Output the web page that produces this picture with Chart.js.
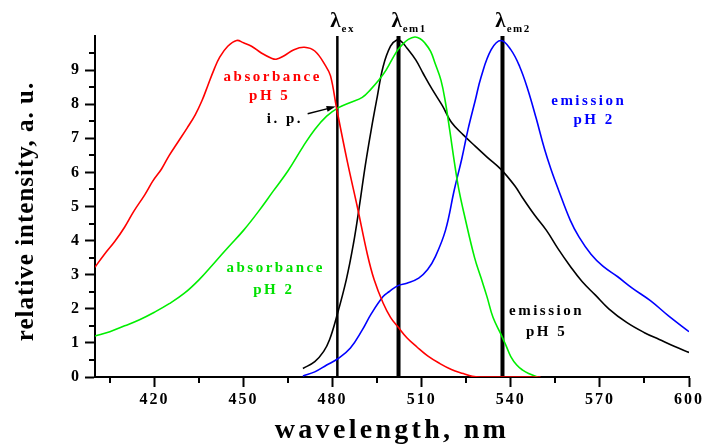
<!DOCTYPE html>
<html>
<head>
<meta charset="utf-8">
<script src="https://cdn.jsdelivr.net/npm/chart.js@4.4.1/dist/chart.umd.min.js"></script>
<style>
  html, body { margin: 0; padding: 0; background: #fff; }
</style>
</head>
<body>
<canvas id="chart" width="704" height="444"></canvas>
<script>
// absorbance, pH 5 (red)
var abs_ph5_nm = [400, 403, 406.7, 410, 413, 416.8, 419.5, 422.4, 425, 428, 431, 433.7, 436, 438, 440, 442, 444.7, 447.7, 450, 452.7, 456, 459.4, 461, 463.7, 467, 470.5, 474, 477.6, 479.3, 481.3, 485, 488.3, 491.7, 494, 497, 499.5, 502, 505, 508.4, 512, 516, 520, 524, 527, 530, 550];
var abs_ph5_val = [3.22, 3.58, 3.98, 4.4, 4.85, 5.35, 5.75, 6.1, 6.5, 6.9, 7.3, 7.68, 8.1, 8.55, 9.0, 9.38, 9.7, 9.87, 9.8, 9.7, 9.5, 9.35, 9.32, 9.42, 9.6, 9.67, 9.56, 9.13, 8.83, 7.9, 6.3, 5.0, 3.6, 2.85, 2.17, 1.75, 1.47, 1.15, 0.88, 0.62, 0.4, 0.22, 0.1, 0.02, 0, 0];

// absorbance, pH 2 (green)
var abs_ph2_nm = [400, 405, 410, 415, 420, 425, 430, 435, 440, 445, 450, 455, 460, 465, 470, 474, 478, 482, 486, 490, 493, 495.5, 498, 501.6, 503.5, 505.5, 507.7, 509.5, 511, 513, 514.5, 516.5, 518, 519.5, 521, 522.5, 524.5, 527.8, 530, 532, 534, 536.7, 538.5, 540, 542, 544, 546, 549];
var abs_ph2_val = [1.2, 1.33, 1.5, 1.68, 1.9, 2.15, 2.45, 2.85, 3.33, 3.82, 4.3, 4.85, 5.45, 6.05, 6.75, 7.26, 7.65, 7.9, 8.05, 8.2, 8.45, 8.7, 9.0, 9.55, 9.75, 9.9, 9.97, 9.92, 9.8, 9.55, 9.2, 8.7, 8.05, 7.2, 6.3, 5.5, 4.7, 3.5, 2.9, 2.35, 1.75, 1.25, 0.9, 0.6, 0.35, 0.2, 0.1, 0];

// emission, pH 5 (black)
var em_ph5_nm = [470, 474, 477, 479, 481.3, 484.6, 487, 489, 491, 493, 495, 497, 499.5, 501.6, 503, 505, 508, 510.5, 513.5, 517, 520, 524, 528, 532, 536.7, 541.4, 544, 548, 552, 556, 560, 564, 568.5, 573, 579, 585, 590, 595, 600];
var em_ph5_val = [0.25, 0.45, 0.75, 1.1, 1.75, 2.85, 3.9, 5.0, 6.2, 7.25, 8.2, 9.1, 9.7, 9.88, 9.85, 9.65, 9.3, 8.9, 8.44, 7.95, 7.47, 7.1, 6.77, 6.45, 6.09, 5.6, 5.25, 4.75, 4.3, 3.75, 3.25, 2.8, 2.4, 2.0, 1.6, 1.3, 1.1, 0.9, 0.72];

// emission, pH 2 (blue)
var em_ph2_nm = [470, 474, 478, 482, 486, 490, 493, 497, 499, 502, 505, 509, 512, 514.6, 518, 521, 523.5, 525.6, 528, 530, 533.4, 536.7, 540, 543, 545.7, 548.5, 551.3, 553.5, 556, 560, 563, 567, 571, 576, 581, 587, 593, 600];
var em_ph2_val = [0.03, 0.15, 0.35, 0.55, 0.85, 1.38, 1.85, 2.36, 2.5, 2.68, 2.75, 2.9, 3.15, 3.53, 4.3, 5.5, 6.4, 7.26, 8.1, 8.8, 9.6, 9.87, 9.6, 9.1, 8.44, 7.6, 6.7, 6.1, 5.5, 4.6, 4.1, 3.6, 3.25, 2.94, 2.6, 2.24, 1.8, 1.33];

// wavelengths of the vertical markers
var lambda_names = ['ex', 'em1', 'em2'];
var lambda_nm = [481.6, 502.2, 537.2];

var x_ticks = [405, 420, 435, 450, 465, 480, 495, 510, 525, 540, 555, 570, 585, 600];
var y_ticks = [0, 0.5, 1, 1.5, 2, 2.5, 3, 3.5, 4, 4.5, 5, 5.5, 6, 6.5, 7, 7.5, 8, 8.5, 9, 9.5];

var serif = "'Liberation Serif', 'Times New Roman', serif";

// curve captions, placed in data coordinates
var captions = [
  { text: 'absorbance', color: '#ff0000', x: 459.5, y: 8.79 },
  { text: 'pH 5', color: '#ff0000', x: 458.5, y: 8.24 },
  { text: 'i. p.', color: '#000000', x: 463.6, y: 7.56 },
  { text: 'absorbance', color: '#00e000', x: 460.5, y: 3.18 },
  { text: 'pH 2', color: '#00e000', x: 459.9, y: 2.56 },
  { text: 'emission', color: '#0000ff', x: 565.9, y: 8.09 },
  { text: 'pH 2', color: '#0000ff', x: 567.7, y: 7.53 },
  { text: 'emission', color: '#000000', x: 551.7, y: 1.92 },
  { text: 'pH 5', color: '#000000', x: 551.7, y: 1.33 }
];

function points(xs, ys) {
  return xs.map(function(x, i) { return { x: x, y: ys[i] }; });
}

function curve(xs, ys, color) {
  return {
    data: points(xs, ys),
    borderColor: color,
    borderWidth: 1.6,
    pointRadius: 0,
    tension: 0.4
  };
}

var datasets = [
  curve(abs_ph5_nm, abs_ph5_val, '#ff0000'),
  curve(abs_ph2_nm, abs_ph2_val, '#00ee00'),
  curve(em_ph2_nm, em_ph2_val, '#0000ff'),
  curve(em_ph5_nm, em_ph5_val, '#000000')
];
lambda_nm.forEach(function(nm, i) {
  datasets.push({
    data: [{ x: nm, y: 0 }, { x: nm, y: 10 }],
    borderColor: '#000000',
    borderWidth: i === 0 ? 2.5 : 4,
    pointRadius: 0
  });
});

var title_spacing = { x: '3.3px', y: '1px' };
var title_shift = { x: 0, y: 5 };

var decorations = {
  id: 'decorations',
  beforeDraw: function(chart) {
    chart.ctx.letterSpacing = '2px';
  },
  afterLayout: function(chart) {
    ['x', 'y'].forEach(function(id) {
      var s = chart.scales[id];
      if (s._spaced) return;
      var orig = s.drawTitle;
      s.drawTitle = function() {
        var c = this.ctx;
        var prev = c.letterSpacing;
        c.save();
        c.translate(0, title_shift[id]);
        c.letterSpacing = title_spacing[id];
        orig.apply(this, arguments);
        c.restore();
        c.letterSpacing = prev;
      };
      s._spaced = true;
    });
  },
  afterDatasetsDraw: function(chart) {
    var ctx = chart.ctx, xs = chart.scales.x, ys = chart.scales.y;
    ctx.save();

    // curve captions
    ctx.font = 'bold 15px ' + serif;
    ctx.letterSpacing = '2.5px';
    ctx.textAlign = 'center';
    ctx.textBaseline = 'middle';
    captions.forEach(function(c) {
      ctx.fillStyle = c.color;
      ctx.fillText(c.text, xs.getPixelForValue(c.x) + 1, ys.getPixelForValue(c.y));
    });

    // i. p. arrow
    var x0 = xs.getPixelForValue(471.6), y0 = ys.getPixelForValue(7.72);
    var x1 = xs.getPixelForValue(481.0), y1 = ys.getPixelForValue(7.93);
    var a = Math.atan2(y1 - y0, x1 - x0);
    ctx.strokeStyle = '#000';
    ctx.fillStyle = '#000';
    ctx.lineWidth = 1.3;
    ctx.beginPath();
    ctx.moveTo(x0, y0);
    ctx.lineTo(x1 - 6 * Math.cos(a), y1 - 6 * Math.sin(a));
    ctx.stroke();
    ctx.beginPath();
    ctx.moveTo(x1, y1);
    ctx.lineTo(x1 - 9 * Math.cos(a) + 3 * Math.sin(a), y1 - 9 * Math.sin(a) - 3 * Math.cos(a));
    ctx.lineTo(x1 - 9 * Math.cos(a) - 3 * Math.sin(a), y1 - 9 * Math.sin(a) + 3 * Math.cos(a));
    ctx.closePath();
    ctx.fill();

    // lambda labels above the markers
    ctx.textBaseline = 'alphabetic';
    lambda_nm.forEach(function(nm, i) {
      var px = xs.getPixelForValue(nm) - 2;
      ctx.font = 'bold 21px ' + serif;
      ctx.letterSpacing = '0px';
      ctx.textAlign = 'center';
      ctx.fillText('\u03bb', px, 27);
      var w = ctx.measureText('\u03bb').width;
      ctx.font = 'bold 11px ' + serif;
      ctx.letterSpacing = '1.5px';
      ctx.textAlign = 'left';
      ctx.fillText(lambda_names[i], px + w / 2 + 1, 32);
    });
    ctx.restore();
  },
  afterDraw: function(chart) {
    var ctx = chart.ctx, xs = chart.scales.x, ys = chart.scales.y;
    var area = chart.chartArea;
    ctx.save();
    ctx.strokeStyle = '#000';
    ctx.lineWidth = 2;
    ctx.beginPath();
    x_ticks.forEach(function(v) {
      if (v % 30 === 0) return;
      var px = Math.round(xs.getPixelForValue(v));
      ctx.moveTo(px, area.bottom);
      ctx.lineTo(px, area.bottom + 6);
    });
    y_ticks.forEach(function(v) {
      if (v % 1 === 0) return;
      var py = Math.round(ys.getPixelForValue(v));
      ctx.moveTo(area.left, py);
      ctx.lineTo(area.left - 6, py);
    });
    ctx.stroke();
    ctx.restore();
    ctx.letterSpacing = '0px';
  }
};

Chart.defaults.font.family = serif;
Chart.defaults.color = '#000';

new Chart(document.getElementById('chart'), {
  type: 'line',
  data: { datasets: datasets },
  plugins: [decorations],
  options: {
    responsive: false,
    animation: false,
    events: [],
    layout: { padding: { top: 36, right: 14, left: 0, bottom: 0 } },
    plugins: { legend: { display: false }, tooltip: { enabled: false } },
    scales: {
      x: {
        type: 'linear',
        min: 400,
        max: 600,
        afterBuildTicks: function(scale) {
          scale.ticks = x_ticks.map(function(v) { return { value: v }; });
        },
        afterFit: function(scale) { scale.height = 67; },
        grid: {
          drawOnChartArea: false,
          tickLength: 10,
          tickWidth: 2,
          tickColor: function(c) { return c.tick && c.tick.value % 30 === 0 ? '#000' : 'rgba(0,0,0,0)'; }
        },
        border: { color: '#000', width: 2 },
        ticks: {
          maxRotation: 0,
          autoSkip: false,
          padding: 3,
          font: { size: 16, weight: 'bold' },
          callback: function(v) { return v % 30 === 0 ? String(v) : ''; }
        },
        title: {
          display: true,
          text: 'wavelength, nm',
          font: { size: 28, weight: 'bold', lineHeight: '26px' },
          padding: 0
        }
      },
      y: {
        type: 'linear',
        min: 0,
        max: 10,
        afterBuildTicks: function(scale) {
          scale.ticks = y_ticks.map(function(v) { return { value: v }; });
        },
        afterFit: function(scale) { scale.width = 95; },
        grid: {
          drawOnChartArea: false,
          tickLength: 10,
          tickWidth: 2,
          tickColor: function(c) { return c.tick && c.tick.value % 1 === 0 ? '#000' : 'rgba(0,0,0,0)'; }
        },
        border: { color: '#000', width: 2 },
        ticks: {
          autoSkip: false,
          padding: 4,
          font: { size: 16, weight: 'bold' },
          callback: function(v) { return v % 1 === 0 ? String(v) : ''; }
        },
        title: {
          display: true,
          text: 'relative intensity, a. u.',
          font: { size: 25, weight: 'bold', lineHeight: '25px' },
          padding: { top: 14, bottom: 0 }
        }
      }
    }
  }
});
</script>
</body>
</html>
